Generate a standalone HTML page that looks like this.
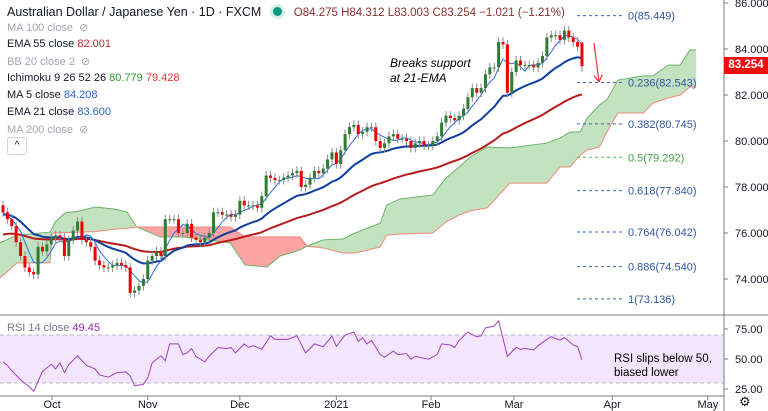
<!DOCTYPE html>
<html><head><meta charset="utf-8"><style>
body{margin:0;background:#fff;width:768px;height:411px;overflow:hidden;font-family:"Liberation Sans",sans-serif}
#wrap{position:relative;width:768px;height:411px}
svg{position:absolute;left:0;top:0}
.leg{position:absolute;left:7px;font-size:11px;color:#131722;white-space:nowrap}
.dim{color:#a3a6af}
</style></head><body>
<div id="wrap">
<svg id="svg" width="768" height="411"></svg>
<div class="leg" style="top:5px;font-size:12.5px">Australian Dollar / Japanese Yen · 1D · FXCM <span style="display:inline-block;width:9px;height:9px;border-radius:50%;background:#089981;box-shadow:0 0 0 3px #d5efe9;margin:0 12px 0 8px;vertical-align:0"></span><span style="font-size:11.5px;color:#8c2f2f">O84.275 H84.312 L83.003 C83.254 −1.021 (−1.21%)</span></div>
<div class="leg dim" style="top:21px">MA 100 close &nbsp;⊘</div>
<div class="leg" style="top:38px">EMA 55 close <span style="color:#c62828">82.001</span></div>
<div class="leg dim" style="top:55px">BB 20 close 2 &nbsp;⊘</div>
<div class="leg" style="top:72px">Ichimoku 9 26 52 26 <span style="color:#2e9c2e">80.779</span> <span style="color:#f23030">79.428</span></div>
<div class="leg" style="top:89px">MA 5 close <span style="color:#2962c8">84.208</span></div>
<div class="leg" style="top:106px">EMA 21 close <span style="color:#2962c8">83.600</span></div>
<div class="leg dim" style="top:123px">MA 200 close &nbsp;⊘</div>
<div style="position:absolute;left:7px;top:137px;width:18px;height:16px;border:1px solid #d1d4dc;border-radius:3px;font-size:10px;text-align:center;line-height:16px;color:#131722">^</div>
<div class="leg" style="top:322px;color:#787b86">RSI 14 close <span style="color:#9c27b0">49.45</span></div>
<div style="position:absolute;left:390px;top:56px;font-size:12px;font-style:italic;line-height:15px;color:#000">Breaks support<br>at 21-EMA</div>
<div style="position:absolute;left:614px;top:352px;font-size:11.5px;line-height:14px;color:#000">RSI slips below 50,<br>biased lower</div>
<div style="position:absolute;left:724px;top:57px;width:44px;height:17px;background:#f20d0d;color:#fff;font-size:11.5px;font-weight:bold;line-height:17px;text-align:center">83.254</div>
<div style="position:absolute;left:739px;top:394px;font-size:13px;color:#131722">⚙</div>
</div>
<script>
const closes=[76.9,76.6,76.3,75.6,75.0,74.5,74.3,74.2,75.4,75.2,75.5,75.8,75.9,75.8,75.0,75.7,76.1,76.5,75.7,75.6,75.4,74.8,74.6,74.5,74.5,74.6,74.7,74.6,74.5,73.4,73.5,73.7,74.0,74.8,75.0,75.2,75.0,76.6,76.6,76.6,76.0,76.0,76.4,75.8,75.7,75.6,75.8,76.0,76.9,76.9,76.8,76.8,76.7,76.8,77.4,77.2,77.2,77.2,77.1,77.6,78.5,78.4,78.3,78.3,78.4,78.5,78.6,78.7,
78.0,78.1,78.4,78.7,78.6,78.8,79.2,79.5,79.0,79.6,80.3,80.6,80.7,80.3,80.4,80.6,80.6,80.0,79.7,79.9,80.2,80.3,80.1,80.1,80.0,79.7,79.9,80.0,79.8,79.8,80.0,80.2,80.8,81.1,81.0,80.9,81.1,81.4,81.9,82.3,82.1,82.3,82.9,83.2,83.2,84.3,84.2,82.1,83.0,83.5,83.3,83.3,83.3,83.2,83.4,83.7,84.5,84.6,84.6,84.4,84.8,84.5,84.3,84.1,83.254];
const firstOpen=77.2;
const lastHigh=84.312, lastLow=83.003, lastOpen=84.275;
const ema21Seed=76.8, ema55Seed=75.9;
const cloudBar=[-0.7,3.2,10.7,11.2,11.9,14.1,17.6,21,25.5,28.3,30.5,35.8,41,51.8,55.2,60.2,63.2,67.7,69.3,73,77.5,80.3,86,87.5,90.5,98,101,104,106.5,110.4,115.6,124,127,129.3,131.6,133.2,136,137.7,140.2,146,148.2,151.6,154.4,156.6,158];
const spanA=[75.57,75.91,76.04,76.2,76.48,76.87,76.96,77.13,77.04,76.91,76.26,75.83,75.83,75.57,74.61,74.52,75.0,75.26,75.43,75.70,75.74,76.0,76.43,77.22,77.48,77.65,78.39,78.87,79.30,79.74,79.70,79.91,80.13,80.39,80.40,81.0,81.57,81.8,82.65,82.83,82.83,83.3,83.3,83.96,83.96];
const spanB=[74.04,74.70,74.70,76.0,76.0,76.02,76.04,76.06,76.17,76.2,76.26,76.26,76.26,76.26,75.83,75.83,75.83,75.83,75.43,75.35,75.13,75.13,75.39,75.91,75.96,76.0,76.48,76.78,76.96,77.09,78.17,78.17,78.87,78.87,79.39,79.61,79.74,80.39,81.22,81.22,81.65,81.87,82.0,82.35,82.35];
const rsiBar=[0,1,2,4,6,7,9,11,12,13,14,15,17,19,21,22,24,26,28,29,30,32,33,34,36,37,38,40,41,42,43,44,46,47,49,51,52,53,55,56,57,59,61,62,65,67,69,71,73,75,76,78,80,81,82,83,84,86,87,89,90,92,93,94,97,99,100,102,103,104,106,108,109,110,112,113,115,117,118,119,121,122,124,125,126,127,128,130,131,132];
const rsiVal=[47.7,44.7,40.2,32.8,26.9,23,39.7,45.6,41.7,46.8,38.7,45.3,52.7,44.7,41.7,36.7,34.9,38.7,39.3,35.8,27.7,28.9,34.2,46.8,52.7,48.6,62.6,62.6,53.7,55.1,58.7,52.2,47.7,52.2,59.6,58.7,59.6,55.1,62.6,59.6,61.1,58.1,69.4,66.4,66.4,69.4,55.1,62.6,60.2,69.1,60.5,70,72.4,64.7,67.6,62.6,65.5,53.7,51.6,56.6,53.7,54.5,49.8,52.2,49.8,53.7,62.6,61.7,59.6,65.5,72.4,68.5,69.4,75.9,77.5,81.9,52.2,59.6,58.1,58.7,57.5,61.1,66.4,68.6,67,65.8,67.8,61.7,60.3,49.45];
const fibRatio=["0","0.236","0.382","0.5","0.618","0.764","0.886","1"];
const fibPrice=[85.449,82.543,80.745,79.292,77.840,76.042,74.540,73.136];
const priceTicks=[86,84,82,80,78,76,74];
const rsiTicks=[75,50,25];
const timeLabels=["Oct","Nov","Dec","2021","Feb","Mar","Apr","May"];
const timeBars=[11.2,33,54,76,97.6,116.5,138.9,160.7];

const svg=document.getElementById('svg');const NS='http://www.w3.org/2000/svg';
const X=i=>3+i*4.386, Y=p=>3+(86-p)*23, RY=v=>359-(v-50)*1.2;
function mk(t,a,parent){const e=document.createElementNS(NS,t);for(const k in a)e.setAttribute(k,a[k]);(parent||svg).appendChild(e);return e;}
const clip=mk('clipPath',{id:'cp'});mk('rect',{x:0,y:0,width:724,height:315},clip);
const main=mk('g',{'clip-path':'url(#cp)'});


for(let k=0;k<cloudBar.length-1;k++){
  const a1=spanA[k],b1=spanB[k],a2=spanA[k+1],b2=spanB[k+1];
  const up=(a1+a2)>=(b1+b2);
  const p=mk('polygon',{points:`${X(cloudBar[k])},${Y(a1)} ${X(cloudBar[k+1])},${Y(a2)} ${X(cloudBar[k+1])},${Y(b2)} ${X(cloudBar[k])},${Y(b1)}`,fill:up?'#c2e2c0':'#fca4a4',stroke:up?'#c2e2c0':'#fca4a4','stroke-width':0.5},main);
  
  
}
const pa=mk('polyline',{points:cloudBar.map((b,i)=>X(b)+','+Y(spanA[i])).join(' '),fill:'none',stroke:'#6cb36c','stroke-width':1},main);


const pb=mk('polyline',{points:cloudBar.map((b,i)=>X(b)+','+Y(spanB[i])).join(' '),fill:'none',stroke:'#ef8a7a','stroke-width':1},main);


fibPrice.forEach((p,i)=>{
  const l=mk('line',{x1:577,x2:624,y1:Y(p),y2:Y(p),stroke:i==3?'#5cb85c':'#3f64b4','stroke-dasharray':'3,3','stroke-width':1});
  
  
  const t=mk('text',{x:628,y:Y(p)+4,'font-size':11,fill:i==3?'#43a047':'#2f55a4','font-family':'Liberation Sans'});
  t.textContent=fibRatio[i]+'('+p.toFixed(3)+')';
  
  
});
const ma5=closes.map((c,i)=>{const s=closes.slice(Math.max(0,i-4),i+1);return s.reduce((a,b)=>a+b,0)/s.length;});
function ema(n,seed){let e=seed;return closes.map(c=>(e=e+(c-e)*2/(n+1)));}
const e21=ema(21,ema21Seed),e55=ema(55,ema55Seed);
[[e55,'#b71c1c',2,'ema-55-line'],[e21,'#0d3fa0',2,'ema-21-line'],[ma5,'#2f6de0',1,'ma-5-line']].forEach(([arr,c,w,n])=>{
  const l=mk('polyline',{points:arr.map((v,i)=>X(i)+','+Y(v)).join(' '),fill:'none',stroke:c,'stroke-width':w},main);
  
  
});
closes.forEach((c,i)=>{
  const last=i==closes.length-1;
  const o=last?lastOpen:(i==0?firstOpen:closes[i-1]);
  const hi=last?lastHigh:Math.max(o,c)+0.2, lo=last?lastLow:Math.min(o,c)-0.2;
  const g=mk('g',{},main);
  
  
  const col=c>=o?'#2e7d32':'#f00000';
  mk('line',{x1:X(i),x2:X(i),y1:Y(hi),y2:Y(lo),stroke:'#8a8a8a','stroke-width':1},g);
  mk('rect',{x:X(i)-1.5,y:Math.min(Y(o),Y(c)),width:3,height:Math.max(1,Math.abs(Y(o)-Y(c))),fill:col},g);
});
function arrow(x1,y1,x2,y2,n){const g=mk('g',{stroke:'#f23030','stroke-width':1.2,fill:'none'});
  mk('line',{x1,y1,x2,y2},g);const a=Math.atan2(y2-y1,x2-x1);
  [2.6,-2.6].forEach(d=>mk('line',{x1:x2,y1:y2,x2:x2+8*Math.cos(a+d),y2:y2+8*Math.sin(a+d)},g));}
arrow(594,43,599,82,'down-arrow-price');arrow(590,345,595,374,'down-arrow-rsi');
const bg=mk('rect',{x:0,y:RY(70),width:724,height:RY(30)-RY(70),fill:'#f3e6fc'});


[70,30].forEach(v=>{const l=mk('line',{x1:0,x2:724,y1:RY(v),y2:RY(v),stroke:'#b8b8c0','stroke-dasharray':'4,3'});});
const rl=mk('polyline',{points:rsiBar.map((b,i)=>X(b)+','+RY(rsiVal[i])).join(' '),fill:'none',stroke:'#a040c0','stroke-width':1});


[[0,315,768,315],[0,396,724,396],[724,0,724,411]].forEach(s=>{const l=mk('line',{x1:s[0],y1:s[1],x2:s[2],y2:s[3],stroke:'#787b86','stroke-width':1});});
priceTicks.forEach(p=>{const t=mk('text',{x:735,y:Y(p)+4,'font-size':11,fill:'#131722'});t.textContent=p.toFixed(3);mk('line',{x1:724,x2:728,y1:Y(p),y2:Y(p),stroke:'#787b86'});});
rsiTicks.forEach(v=>{const t=mk('text',{x:735,y:RY(v)+4,'font-size':11,fill:'#131722'});t.textContent=v.toFixed(2);mk('line',{x1:724,x2:728,y1:RY(v),y2:RY(v),stroke:'#787b86'});});
timeLabels.forEach((s,i)=>{const x=X(timeBars[i]);mk('line',{x1:x,x2:x,y1:396,y2:400,stroke:'#787b86'});const t=mk('text',{x:x,y:408,'font-size':11,fill:'#131722','text-anchor':'middle'});t.textContent=s;});
</script>
</body></html>
